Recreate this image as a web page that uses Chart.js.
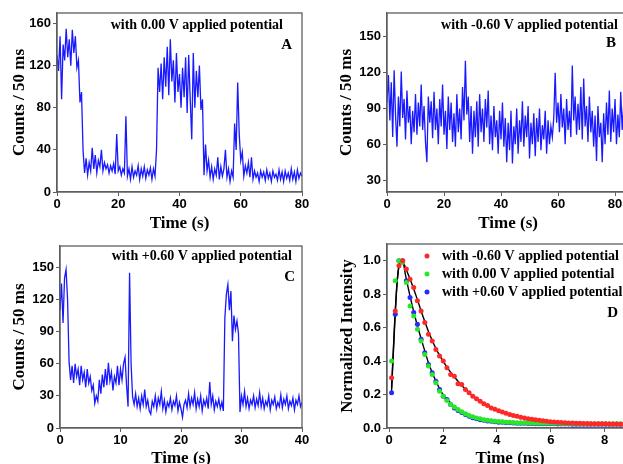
<!DOCTYPE html>
<html>
<head>
<meta charset="utf-8">
<script src="https://cdn.jsdelivr.net/npm/chart.js@4.4.1/dist/chart.umd.min.js"></script>
<style>
html, body { margin: 0; padding: 0; background: #fff; overflow: hidden; width: 623px; height: 464px; }
canvas { position: absolute; }
</style>
</head>
<body>
<canvas id="chart-a" width="312" height="240" style="left:0;top:0"></canvas>
<canvas id="chart-b" width="330" height="240" style="left:312px;top:0"></canvas>
<canvas id="chart-c" width="312" height="240" style="left:0;top:232px"></canvas>
<canvas id="chart-d" width="330" height="240" style="left:312px;top:232px"></canvas>
<script>
// ---- data ----
// A: 0.00 V, one value every 0.5 s
const STEP_A = 0.5
const countsA = [
    130, 115, 148, 88, 140, 125, 155, 128, 145, 120, 154, 132, 148, 118, 125, 85, 95, 40, 18, 32,
    16, 28, 20, 42, 22, 35, 18, 30, 24, 40, 20, 28, 22, 26, 18, 25, 20, 27, 17, 55,
    20, 24, 16, 22, 18, 72, 15, 22, 12, 24, 14, 20, 16, 25, 12, 22, 15, 24, 13, 21,
    16, 23, 12, 22, 15, 40, 118, 95, 122, 88, 128, 100, 138, 92, 145, 105, 125, 85, 132, 95,
    112, 80, 118, 90, 128, 75, 130, 88, 50, 132, 80, 115, 90, 120, 78, 88, 16, 45, 20, 30,
    14, 24, 12, 22, 16, 33, 12, 24, 15, 22, 40, 14, 22, 10, 20, 14, 65, 40, 104, 55,
    30, 38, 15, 25, 18, 28, 14, 33, 12, 20, 14, 18, 10, 20, 14, 19, 11, 21, 13, 18,
    10, 20, 14, 17, 11, 21, 12, 19, 10, 20, 13, 18, 11, 22, 12, 19, 10, 21, 13, 18,
    15,
]

// B: -0.60 V, one value every 0.5 s
const STEP_B = 0.5
const countsB = [
    95, 118, 80, 112, 66, 122, 84, 58, 100, 75, 121, 82, 98, 64, 105, 78, 92, 60, 88, 70,
    102, 68, 95, 75, 110, 72, 92, 62, 45, 100, 78, 96, 65, 104, 72, 90, 60, 98, 75, 110,
    68, 88, 56, 100, 72, 95, 62, 86, 58, 102, 70, 90, 64, 108, 80, 130, 85, 100, 62, 92,
    52, 88, 66, 96, 58, 102, 70, 90, 62, 98, 74, 105, 60, 84, 55, 92, 66, 80, 52, 88,
    64, 95, 58, 82, 45, 78, 55, 88, 44, 75, 60, 90, 52, 80, 62, 96, 58, 84, 66, 92,
    48, 78, 60, 86, 50, 82, 62, 90, 55, 76, 64, 88, 52, 80, 60, 75, 66, 82, 120, 78,
    95, 70, 102, 74, 90, 60, 98, 72, 88, 66, 126, 80, 100, 68, 94, 72, 108, 64, 115, 75,
    92, 62, 100, 70, 88, 58, 84, 46, 92, 66, 78, 45, 86, 60, 95, 68, 105, 62, 90, 70,
    98, 60, 85, 66, 104, 72, 92, 64, 88, 70, 95, 68, 90,
]

// C: +0.60 V, one value every 0.25 s
const STEP_C = 0.25
const countsC = [
    110, 135, 98, 140, 148, 120, 62, 45, 58, 42, 60, 48, 55, 40, 58, 45, 52, 38, 55, 42,
    48, 35, 40, 23, 30, 25, 45, 32, 50, 38, 55, 40, 61, 44, 52, 35, 48, 42, 58, 40,
    55, 45, 60, 66, 40, 20, 145, 60, 29, 22, 32, 20, 28, 18, 30, 22, 36, 20, 26, 16,
    13, 25, 20, 30, 18, 28, 22, 34, 18, 26, 15, 24, 20, 28, 17, 25, 21, 30, 16, 24,
    18, 10, 22, 26, 19, 32, 20, 28, 22, 33, 18, 27, 20, 30, 16, 26, 21, 28, 18, 43,
    22, 30, 17, 25, 20, 27, 18, 24, 16, 103, 125, 134, 110, 128, 81, 105, 92, 100, 88, 15,
    30, 22, 34, 20, 28, 18, 26, 22, 30, 19, 27, 21, 33, 20, 28, 18, 25, 21, 30, 17,
    26, 22, 29, 18, 24, 20, 31, 19, 27, 22, 30, 18, 25, 21, 28, 17, 26, 22, 30, 20,
    24,
]

// D: decay curves, dots start at 0.09 ns, one every 0.137 ns
const T0_D = 0.09
const STEP_D = 0.137
const decayNeg = [
    0.30, 0.70, 0.97, 1.00, 0.95, 0.89, 0.84, 0.76, 0.70, 0.63, 0.56, 0.52, 0.47, 0.43, 0.40, 0.36,
    0.32, 0.31, 0.265, 0.26, 0.23, 0.21, 0.19, 0.175, 0.16, 0.145, 0.135, 0.12, 0.112, 0.103, 0.095,
    0.088, 0.08, 0.075, 0.07, 0.065, 0.06, 0.056, 0.052, 0.049, 0.046, 0.043, 0.041, 0.038, 0.036,
    0.035, 0.033, 0.032, 0.030, 0.030, 0.029, 0.028, 0.027, 0.027, 0.026, 0.026, 0.025, 0.025, 0.025,
    0.024, 0.024, 0.024, 0.023, 0.023, 0.023, 0.023, 0.022,
]
const decayZero = [
    0.40, 0.88, 1.00, 0.99, 0.87, 0.73, 0.67, 0.59, 0.52, 0.44, 0.37, 0.32, 0.27, 0.22, 0.19, 0.165,
    0.14, 0.125, 0.11, 0.097, 0.085, 0.075, 0.067, 0.06, 0.055, 0.05, 0.047, 0.044, 0.041, 0.039,
    0.037, 0.035, 0.034, 0.033, 0.032, 0.031, 0.031, 0.030, 0.030, 0.029, 0.029, 0.029, 0.028, 0.028,
    0.028, 0.028, 0.027, 0.027, 0.027, 0.027, 0.027, 0.026, 0.026, 0.026, 0.026, 0.026, 0.026, 0.025,
    0.025, 0.025, 0.025, 0.025, 0.025, 0.025, 0.025, 0.025, 0.025,
]
const decayPos = [
    0.21, 0.68, 1.00, 1.00, 0.88, 0.78, 0.69, 0.62, 0.53, 0.45, 0.38, 0.33, 0.28, 0.23, 0.19, 0.17,
    0.14, 0.12, 0.105, 0.092, 0.08, 0.07, 0.062, 0.056, 0.05, 0.046, 0.042, 0.040, 0.037, 0.035,
    0.034, 0.032, 0.031, 0.030, 0.029, 0.029, 0.028, 0.027, 0.027, 0.026, 0.026, 0.026, 0.025, 0.025,
    0.025, 0.024, 0.024, 0.024, 0.024, 0.023, 0.023, 0.023, 0.023, 0.023, 0.023, 0.022, 0.023, 0.022,
    0.023, 0.022, 0.022, 0.023, 0.022, 0.022, 0.022, 0.022, 0.022,
]
// fitted curves (black lines)
const fitNegTime = [0.09, 0.2, 0.3, 0.4, 0.5, 0.6, 0.8, 1.0, 1.25, 1.5, 1.75, 2.0, 2.25, 2.5, 2.75, 3.0, 3.5, 4.0, 4.5, 5.0, 5.5, 6.0, 6.5, 7.0, 7.5, 8.0, 8.5, 9.0, 9.5]
const fitNegValue = [0.24, 0.62, 0.88, 0.99, 1.0, 0.96, 0.88, 0.79, 0.67, 0.56, 0.47, 0.40, 0.34, 0.29, 0.245, 0.205, 0.148, 0.107, 0.079, 0.06, 0.047, 0.038, 0.032, 0.029, 0.026, 0.025, 0.024, 0.023, 0.022]
const fitPosTime = [0.09, 0.2, 0.3, 0.4, 0.5, 0.6, 0.8, 1.0, 1.25, 1.5, 1.75, 2.0, 2.25, 2.5, 2.75, 3.0, 3.5, 4.0, 4.5, 5.0, 6.0, 7.0, 8.0, 9.5]
const fitPosValue = [0.22, 0.6, 0.88, 0.99, 1.0, 0.92, 0.77, 0.64, 0.5, 0.37, 0.275, 0.2, 0.155, 0.115, 0.09, 0.07, 0.049, 0.038, 0.032, 0.029, 0.026, 0.025, 0.025, 0.024]

const LABEL_NEG = 'with -0.60 V applied potential'
const LABEL_ZERO = 'with 0.00 V applied potential'
const LABEL_POS = 'with +0.60 V applied potential'

const ticksA = { x: [0, 20, 40, 60, 80], y: [0, 40, 80, 120, 160] }
const ticksB = { x: [0, 20, 40, 60, 80], y: [30, 60, 90, 120, 150] }
const ticksC = { x: [0, 10, 20, 30, 40], y: [0, 30, 60, 90, 120, 150] }
const ticksD = { x: [0, 2, 4, 6, 8], y: [0, 0.2, 0.4, 0.6, 0.8, 1.0] }

// ---- styling ----
const TRACE_BLUE = 'rgb(25, 25, 255)'
const AXIS_GREY = '#5e5e5e'
const TICK_FONT = { family: "'Liberation Sans', Arial, sans-serif", size: 13, weight: 'bold' }
const TITLE_FONT = { family: "'Liberation Serif', 'Times New Roman', serif", size: 17, weight: 'bold' }
const SERIF = "'Liberation Serif', 'Times New Roman', serif"

const toPoints = (values, step, start = 0) => values.map((v, i) => ({ x: start + i * step, y: v }))
const zipPoints = (xs, ys) => xs.map((x, i) => ({ x: x, y: ys[i] }))

function makeScales(o) {
    return {
        x: {
            type: 'linear',
            min: o.xMin,
            max: o.xMax,
            afterBuildTicks: (s) => { s.ticks = o.ticks.x.map((v) => ({ value: v })) },
            afterFit: (s) => { s.height = o.xHeight },
            grid: { drawOnChartArea: false, tickLength: 4, color: AXIS_GREY },
            border: { color: AXIS_GREY, width: 1.3 },
            ticks: { color: '#000', font: TICK_FONT, padding: 1, maxRotation: 0, autoSkip: false },
            title: { display: true, text: o.xTitle, color: '#000', font: TITLE_FONT, padding: { top: 0, bottom: o.xTitlePad } },
        },
        y: {
            type: 'linear',
            min: o.yMin,
            max: o.yMax,
            afterBuildTicks: (s) => { s.ticks = o.ticks.y.map((v) => ({ value: v })) },
            afterFit: (s) => { s.width = o.yWidth },
            grid: { drawOnChartArea: false, tickLength: 4, color: AXIS_GREY },
            border: { color: AXIS_GREY, width: 1.3 },
            ticks: { color: '#000', font: TICK_FONT, padding: 2, autoSkip: false, callback: o.yFormat },
            title: { display: true, text: o.yTitle, color: '#000', font: TITLE_FONT, padding: { top: o.yTitlePad, bottom: 0 } },
        },
    }
}

// box around the plot area
const frame = {
    id: 'frame',
    afterDatasetsDraw(chart) {
        const { ctx, chartArea: a } = chart
        ctx.save()
        ctx.strokeStyle = AXIS_GREY
        ctx.lineWidth = 1.3
        ctx.strokeRect(a.left, a.top, a.right - a.left, a.bottom - a.top)
        ctx.restore()
    },
}

// in-plot captions, panel letters and the dot legend of panel D
function captions(items, legend) {
    return {
        id: 'captions',
        afterDraw(chart) {
            const ctx = chart.ctx
            ctx.save()
            ctx.textBaseline = 'middle'
            items.forEach((t) => {
                ctx.fillStyle = '#000'
                ctx.font = 'bold ' + t.size + 'px ' + SERIF
                ctx.textAlign = 'right'
                ctx.fillText(t.text, t.x, t.y)
            })
            if (legend) {
                chart.data.datasets.filter((d) => d.inLegend).forEach((d, i) => {
                    const y = legend.y + i * legend.gap
                    ctx.fillStyle = d.backgroundColor
                    ctx.beginPath()
                    ctx.arc(legend.x, y, 2.5, 0, Math.PI * 2)
                    ctx.fill()
                    ctx.fillStyle = '#000'
                    ctx.font = 'bold ' + legend.size + 'px ' + SERIF
                    ctx.textAlign = 'left'
                    ctx.fillText(d.label, legend.x + 15, y)
                })
            }
            ctx.restore()
        },
    }
}

const baseOptions = (padding, scales) => ({
    responsive: false,
    animation: false,
    layout: { padding: padding },
    plugins: { legend: { display: false }, tooltip: { enabled: false } },
    scales: scales,
})

const traceSet = (values, step) => ({
    data: toPoints(values, step),
    borderColor: TRACE_BLUE,
    borderWidth: 1.3,
    pointRadius: 0,
    tension: 0,
})

const chartA = new Chart(document.getElementById('chart-a'), {
    type: 'line',
    data: { datasets: [traceSet(countsA, STEP_A)] },
    options: baseOptions({ left: 0, top: 13, right: 10, bottom: 0 }, makeScales({
        xMin: 0, xMax: 80, yMin: 0, yMax: 170, ticks: ticksA,
        xTitle: 'Time (s)', yTitle: 'Counts / 50 ms',
        xHeight: 48, yWidth: 57, xTitlePad: 6, yTitlePad: 9,
    })),
    plugins: [frame, captions([
        { text: LABEL_ZERO, x: 283, y: 25, size: 14 },
        { text: 'A', x: 292, y: 45, size: 15 },
    ])],
})

const chartB = new Chart(document.getElementById('chart-b'), {
    type: 'line',
    data: { datasets: [traceSet(countsB, STEP_B)] },
    options: baseOptions({ left: 0, top: 13, right: 12.7, bottom: 0 }, makeScales({
        xMin: 0, xMax: 85, yMin: 20, yMax: 170, ticks: ticksB,
        xTitle: 'Time (s)', yTitle: 'Counts / 50 ms',
        xHeight: 48, yWidth: 75, xTitlePad: 6, yTitlePad: 24,
    })),
    plugins: [frame, captions([
        { text: LABEL_NEG, x: 306, y: 25, size: 14 },
        { text: 'B', x: 304, y: 43, size: 15 },
    ])],
})

const chartC = new Chart(document.getElementById('chart-c'), {
    type: 'line',
    data: { datasets: [traceSet(countsC, STEP_C)] },
    options: baseOptions({ left: 0, top: 14, right: 10, bottom: 0 }, makeScales({
        xMin: 0, xMax: 40, yMin: 0, yMax: 170, ticks: ticksC,
        xTitle: 'Time (s)', yTitle: 'Counts / 50 ms',
        xHeight: 44, yWidth: 60, xTitlePad: 3, yTitlePad: 9,
    })),
    plugins: [frame, captions([
        { text: LABEL_POS, x: 292, y: 24, size: 14 },
        { text: 'C', x: 295, y: 45, size: 15 },
    ])],
})

const dotSet = (label, values, color) => ({
    label: label,
    inLegend: true,
    data: toPoints(values, STEP_D, T0_D),
    backgroundColor: color,
    borderWidth: 0,
    pointRadius: 2.5,
})
const fitSet = (xs, ys) => ({
    data: zipPoints(xs, ys),
    showLine: true,
    borderColor: '#000',
    borderWidth: 1.4,
    pointRadius: 0,
    cubicInterpolationMode: 'monotone',
})

const chartD = new Chart(document.getElementById('chart-d'), {
    type: 'scatter',
    data: {
        datasets: [
            dotSet(LABEL_NEG, decayNeg, 'rgb(255, 40, 40)'),
            dotSet(LABEL_ZERO, decayZero, 'rgb(40, 230, 40)'),
            dotSet(LABEL_POS, decayPos, 'rgb(40, 40, 255)'),
            fitSet(fitNegTime, fitNegValue),
            fitSet(fitPosTime, fitPosValue),
        ],
    },
    options: baseOptions({ left: 0, top: 12, right: 9, bottom: 0 }, makeScales({
        xMin: -0.08, xMax: 9.05, yMin: 0, yMax: 1.1, ticks: ticksD,
        xTitle: 'Time (ns)', yTitle: 'Normalized Intensity',
        xHeight: 44, yWidth: 75, xTitlePad: 3, yTitlePad: 25,
        yFormat: (v) => v.toFixed(1),
    })),
    plugins: [frame, captions([
        { text: 'D', x: 306, y: 81, size: 15 },
    ], { x: 115, y: 24, gap: 18, size: 14 })],
})
</script>
</body>
</html>
